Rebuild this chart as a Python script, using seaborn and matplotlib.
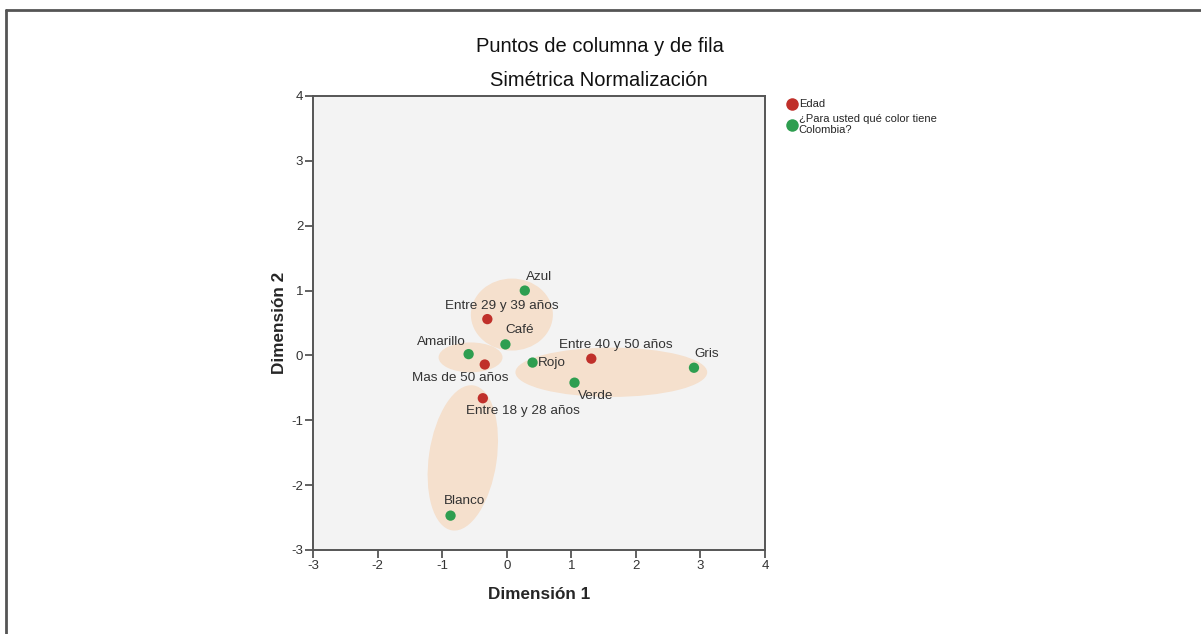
import numpy as np
import pandas as pd
import matplotlib
matplotlib.use("Agg")
import matplotlib.pyplot as plt
from matplotlib.patches import Ellipse
from matplotlib.lines import Line2D
import seaborn as sns

# row / column points
labels = ["Entre 18 y 28 años", "Entre 29 y 39 años", "Entre 40 y 50 años", "Mas de 50 años",
          "Amarillo", "Azul", "Blanco", "Café", "Gris", "Rojo", "Verde"]
dim1 = [-0.37, -0.30, 1.31, -0.34, -0.59, 0.28, -0.87, -0.02, 2.90, 0.40, 1.05]
dim2 = [-0.66, 0.56, -0.05, -0.14, 0.02, 1.00, -2.47, 0.17, -0.19, -0.11, -0.42]
grupo = ["Edad"] * 4 + ["¿Para usted qué color tiene\nColombia?"] * 7

# label offsets in pixels (dx, dy)
label_offsets = [(40, -13), (14, 13), (25, 14), (-25, -13),
                 (-27, 12), (14, 14), (14, 15), (14, 14), (13, 14), (0, 0), (21, -13)]

# cluster ellipses: centre x, centre y, width, height, angle
ell_x = [0.08, -0.56, 1.62, -0.68]
ell_y = [0.63, -0.03, -0.26, -1.58]
ell_w = [1.27, 0.99, 2.97, 2.26]
ell_h = [1.11, 0.46, 0.76, 1.05]
ell_a = [0, 0, 0, 81.6]

df = pd.DataFrame({"label": labels, "dim1": dim1, "dim2": dim2, "grupo": grupo})

sns.set_style("white")
plt.rcParams["font.family"] = ["Liberation Sans", "DejaVu Sans"]
plt.rcParams["axes.unicode_minus"] = False

fig = plt.figure(figsize=(12.01, 6.34), dpi=100)
ax = fig.add_axes([313 / 1201, 84 / 634, 452 / 1201, 454 / 634])
ax.set_facecolor("#f3f3f3")

for cx, cy, w, h, a in zip(ell_x, ell_y, ell_w, ell_h, ell_a):
    ax.add_patch(Ellipse((cx, cy), w, h, angle=a, facecolor="#f5e0cd",
                         edgecolor="none", zorder=1))

palette = {"Edad": "#c0302a", "¿Para usted qué color tiene\nColombia?": "#2e9e50"}
sns.scatterplot(data=df, x="dim1", y="dim2", hue="grupo", palette=palette,
                s=55, edgecolor="none", zorder=3, ax=ax, legend=False)

for i, row in df.iterrows():
    dx, dy = label_offsets[i]
    if row["label"] == "Rojo":
        ax.annotate(row["label"], (row["dim1"], row["dim2"]), xytext=(5, 0),
                    textcoords="offset pixels", ha="left", va="center",
                    fontsize=9.7, color="#333333", zorder=4)
    else:
        ax.annotate(row["label"], (row["dim1"], row["dim2"]), xytext=(dx, dy),
                    textcoords="offset pixels", ha="center", va="center",
                    fontsize=9.7, color="#333333", zorder=4)

ax.set_xlim(-3, 4)
ax.set_ylim(-3, 4)
ax.set_xticks(range(-3, 5))
ax.set_yticks(range(-3, 5))
ax.tick_params(direction="out", length=6, width=1.3, color="#555555",
               labelsize=9.5, labelcolor="#333333", bottom=True, left=True, pad=1)
for sp in ax.spines.values():
    sp.set_color("#555555")
    sp.set_linewidth(1.4)

ax.set_xlabel("Dimensión 1", fontsize=12.3, fontweight="bold", labelpad=11)
ax.set_ylabel("Dimensión 2", fontsize=12.3, fontweight="bold", labelpad=3)

fig.text(600 / 1201, 1 - 46 / 634, "Puntos de columna y de fila", ha="center",
         va="center", fontsize=14.5, color="#111111")
fig.text(599 / 1201, 1 - 81 / 634, "Simétrica Normalización", ha="center",
         va="center", fontsize=14.5, color="#111111")

handles = [Line2D([], [], marker="o", linestyle="none", markersize=9,
                  markerfacecolor=c, markeredgecolor="none") for c in palette.values()]
fig.legend(handles, list(palette.keys()), loc="upper left",
           bbox_to_anchor=(781 / 1201, 1 - 95 / 634), frameon=False,
           fontsize=8.0, handletextpad=0.0, labelspacing=0.4, handlelength=1.2,
           borderaxespad=0)

# partial image frame
fig.add_artist(Line2D([0.0054, 1], [1 - 9.5 / 634] * 2, color="#555555", lw=2))
fig.add_artist(Line2D([0.0054] * 2, [0, 1 - 9.5 / 634], color="#555555", lw=2))

fig.savefig("out.png", dpi=100)
